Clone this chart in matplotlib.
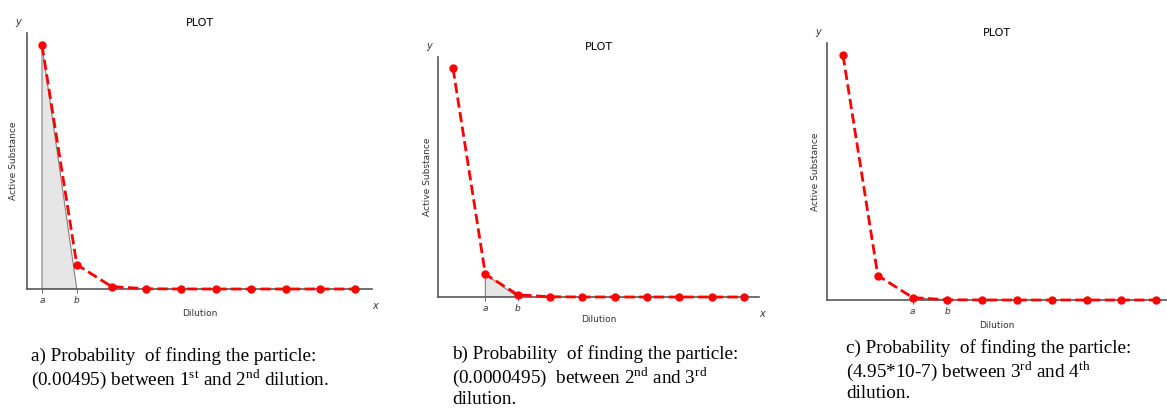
import matplotlib
matplotlib.use("Agg")
import matplotlib.pyplot as plt
from matplotlib.patches import Polygon

plt.rcParams['mathtext.fontset'] = 'custom'
plt.rcParams['mathtext.rm'] = 'Liberation Serif'

# data
dilution = [1, 2, 3, 4, 5, 6, 7, 8, 9, 10]
active = [1.0, 0.1, 0.01, 0.001, 0.0001, 1e-05, 1e-06, 1e-07, 1e-08, 1e-09]
interval_start = [1, 2, 3]   # dilution at tick "a" (b is the next one)
captions = [
    "a) Probability  of finding the particle:\n"
    r"(0.00495) between 1$^{\mathrm{st}}$ and 2$^{\mathrm{nd}}$ dilution.",
    "b) Probability  of finding the particle:\n"
    r"(0.0000495)  between 2$^{\mathrm{nd}}$ and 3$^{\mathrm{rd}}$" "\n"
    "dilution.",
    "c) Probability  of finding the particle:\n"
    r"(4.95*10-7) between 3$^{\mathrm{rd}}$ and 4$^{\mathrm{th}}$" "\n"
    "dilution.",
]

W, H = 1167, 408
fig = plt.figure(figsize=(W / 100, H / 100), dpi=100)

# panel boxes in pixels: left, right, top, bottom
boxes = [(27, 372, 33, 289), (438, 759, 57, 297), (827, 1167, 43, 300)]
xlims = [(0.57, 10.48), (0.535, 10.47), (0.54, 10.31)]
ylabel_x = [14, 427, 815]
xlab_y = [313, 320, 326]
caption_pos = [(31, 347), (452, 345), (846, 339)]

for k, (l, r, t, b) in enumerate(boxes):
    ax = fig.add_axes([l / W, 1 - b / H, (r - l) / W, (b - t) / H])
    ax.plot(dilution, active, 'o--', color='red', lw=2, ms=5, clip_on=False, zorder=3)
    ax.set_xlim(*xlims[k])
    ax.set_ylim(0, 1.05)

    a = interval_start[k]
    ya = active[dilution.index(a)]
    poly = Polygon([(a, 0), (a, ya), (a + 1, 0)], facecolor='0.9', edgecolor='0.5', lw=0.8)
    ax.add_patch(poly)

    for s in ['top', 'right']:
        ax.spines[s].set_visible(False)
    for s in ['left', 'bottom']:
        ax.spines[s].set_color('0.35')
        ax.spines[s].set_linewidth(1.2)
    ax.set_yticks([])
    ax.set_xticks([a, a + 1])
    ax.set_xticklabels(['a', 'b'], fontstyle='italic', fontsize=6.5, color='0.2')
    ax.tick_params(axis='x', length=3, width=0.6, color='0.35', pad=2)
    ax.set_title('PLOT', fontsize=8, pad=5)

    fig.text(ylabel_x[k] / W, 1 - ((t + b) / 2) / H, 'Active Substance',
             rotation=90, ha='center', va='center', fontsize=6.5, color='0.2')
    fig.text(((l + r) / 2) / W, 1 - xlab_y[k] / H, 'Dilution',
             ha='center', va='center', fontsize=6.5, color='0.2')
    fig.text((l - 9) / W, 1 - (t - 11) / H, 'y', fontstyle='italic',
             ha='center', va='center', fontsize=7, color='0.2')
    if k < 2:
        fig.text((r + 3) / W, 1 - (b + 17) / H, 'x', fontstyle='italic',
                 ha='center', va='center', fontsize=7, color='0.2')

    cx, cy = caption_pos[k]
    fig.text(cx / W, 1 - cy / H, captions[k], family='Liberation Serif',
             fontsize=13.8, ha='left', va='top', linespacing=1.12)

fig.savefig('out.png', dpi=100)
